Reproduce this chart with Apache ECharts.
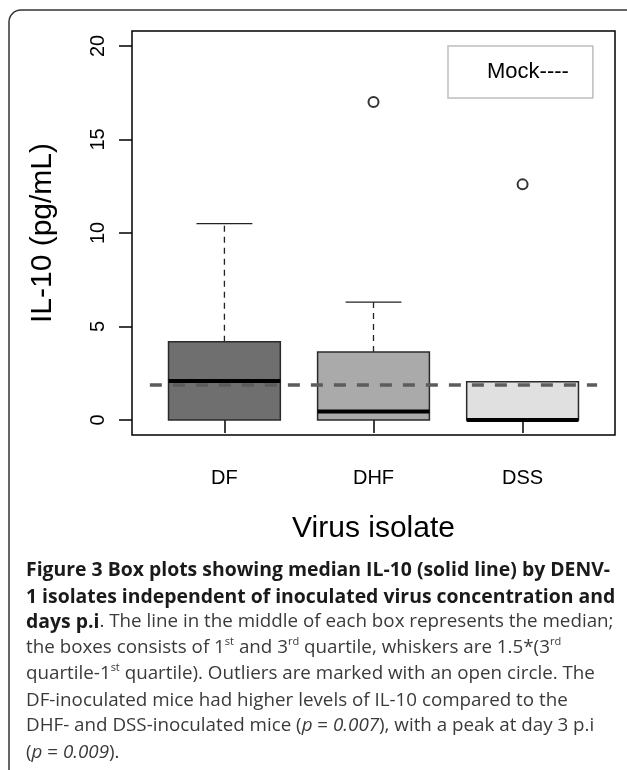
<!DOCTYPE html>
<html>
<head>
<meta charset="utf-8">
<script src="https://cdn.jsdelivr.net/npm/echarts@6/dist/echarts.min.js"></script>
<style>
  html, body { margin: 0; padding: 0; background: #fff; }
  #chart { width: 627px; height: 770px; }
</style>
</head>
<body>
<div id="chart"></div>
<script>
// data
const categories = ['DF', 'DHF', 'DSS'];
const positions = [1, 2, 3];
// [min, q1, median, q3, max]
const boxStats = [
  [0, 0, 2.09, 4.18, 10.5],
  [0, 0, 0.45, 3.64, 6.3],
  [0, 0, 0.0, 2.05, 2.05]
];
const outliers = [[2, 17.0], [3, 12.6]];
const mockLevel = 1.87;
const yTicks = [0, 5, 10, 15, 20];
const boxColors = ['#6f6f6f', '#aaaaaa', '#e0e0e0'];

// caption lines (rich text)
const captionLines = [
  '{b|Figure 3 Box plots showing median IL-10 (solid line) by DENV-}',
  '{b|1 isolates independent of inoculated virus concentration and}',
  '{b|days p.i}. The line in the middle of each box represents the median;',
  'the boxes consists of 1{sup|st} and 3{sup|rd} quartile, whiskers are 1.5*(3{sup|rd}',
  'quartile-1{sup|st} quartile). Outliers are marked with an open circle. The',
  'DF-inoculated mice had higher levels of IL-10 compared to the',
  'DHF- and DSS-inoculated mice ({i|p} = {i|0.007}), with a peak at day 3 p.i',
  '({i|p} = {i|0.009}).'
];
const captionBaselines = [578, 605, 630, 656, 682, 709, 734, 761];

const chart = echarts.init(document.getElementById('chart'));

const boxData = positions.map((p, i) => [p, ...boxStats[i]]);

// R-style box: filled box, dashed whiskers, solid caps, thick median
const renderBox = (params, api) => {
  const x = api.value(0);
  const lo = api.coord([x, api.value(1)]);
  const q1 = api.coord([x, api.value(2)]);
  const med = api.coord([x, api.value(3)]);
  const q3 = api.coord([x, api.value(4)]);
  const hi = api.coord([x, api.value(5)]);
  const bw = api.size([0.75, 0])[0];
  const cx = q1[0];
  const children = [];

  if (hi[1] < q3[1] - 0.5) {
    children.push({
      type: 'line',
      shape: { x1: cx, y1: q3[1], x2: cx, y2: hi[1] },
      style: { stroke: '#222', lineWidth: 1.3, lineDash: [6, 5] }
    });
    children.push({
      type: 'line',
      shape: { x1: cx - bw / 4, y1: hi[1], x2: cx + bw / 4, y2: hi[1] },
      style: { stroke: '#222', lineWidth: 1.3 }
    });
  }
  if (lo[1] > q1[1] + 0.5) {
    children.push({
      type: 'line',
      shape: { x1: cx, y1: q1[1], x2: cx, y2: lo[1] },
      style: { stroke: '#222', lineWidth: 1.3, lineDash: [6, 5] }
    });
  }
  children.push({
    type: 'rect',
    shape: { x: cx - bw / 2, y: q3[1], width: bw, height: q1[1] - q3[1] },
    style: { fill: boxColors[params.dataIndex], stroke: '#2a2a2a', lineWidth: 1.5 }
  });
  children.push({
    type: 'line',
    shape: { x1: cx - bw / 2, y1: med[1], x2: cx + bw / 2, y2: med[1] },
    style: { stroke: '#000', lineWidth: 4 }
  });
  return { type: 'group', children };
};

const capFont = 18.8;
const captionGraphics = captionLines.map((line, i) => ({
  type: 'text',
  left: 26,
  top: captionBaselines[i] - 20,
  style: {
    text: line,
    fontFamily: 'Open Sans',
    fontSize: capFont,
    fill: '#3a3a3a',
    lineHeight: 24,
    rich: {
      b: { fontFamily: 'Open Sans', fontSize: 19.4, fontWeight: 'bold', fill: '#1a1a1a', lineHeight: 24 },
      i: { fontFamily: 'Open Sans', fontSize: capFont, fontStyle: 'italic', fill: '#3a3a3a', lineHeight: 24 },
      sup: { fontFamily: 'Open Sans', fontSize: 11, fill: '#3a3a3a', lineHeight: 12, verticalAlign: 'top' }
    }
  }
}));

const option = {
  animation: false,
  textStyle: { fontFamily: 'Liberation Sans' },
  grid: {
    left: 132, right: 12, top: 31, bottom: 335,
    show: true, borderColor: '#000', borderWidth: 1.5, backgroundColor: 'transparent'
  },
  legend: {
    data: ['Mock----'],
    left: 448, top: 46,
    icon: 'none',
    itemWidth: 20,
    padding: [15, 24, 15, 14],
    borderColor: '#bdbdbd', borderWidth: 1.5,
    textStyle: { fontFamily: 'Liberation Sans', fontSize: 22, color: '#000' }
  },
  xAxis: {
    type: 'value',
    min: 0.38, max: 3.62,
    splitLine: { show: false },
    axisLine: { show: false },
    axisTick: { show: true, customValues: positions, length: 13, lineStyle: { color: '#000', width: 1.5 } },
    axisLabel: {
      customValues: positions,
      formatter: v => categories[Math.round(v) - 1],
      fontSize: 20, color: '#000', margin: 33
    },
    name: 'Virus isolate',
    nameLocation: 'middle',
    nameGap: 79,
    nameTextStyle: { fontSize: 30, color: '#000' }
  },
  yAxis: {
    type: 'value',
    min: -0.8, max: 20.8,
    splitLine: { show: false },
    axisLine: { show: false },
    axisTick: { show: true, customValues: yTicks, length: 13, lineStyle: { color: '#000', width: 1.5 } },
    axisLabel: { customValues: yTicks, rotate: 90, fontSize: 20, color: '#000', margin: 24 },
    name: 'IL-10 (pg/mL)',
    nameLocation: 'middle',
    nameRotate: 90,
    nameGap: 74,
    nameTextStyle: { fontSize: 30, color: '#000' }
  },
  series: [
    {
      name: 'IL-10',
      type: 'custom',
      renderItem: renderBox,
      encode: { x: 0, y: [1, 2, 3, 4, 5] },
      data: boxData,
      z: 2
    },
    {
      name: 'Mock----',
      type: 'line',
      data: [[0.5, mockLevel], [3.5, mockLevel]],
      showSymbol: false,
      lineStyle: { color: '#5c5c5c', width: 3.5, type: [12, 11] },
      z: 3
    },
    {
      name: 'Outliers',
      type: 'scatter',
      data: outliers,
      symbol: 'emptyCircle',
      symbolSize: 10,
      itemStyle: { color: '#000', borderWidth: 1.3 },
      z: 4
    }
  ],
  graphic: [
    {
      type: 'rect',
      shape: { x: 9, y: 10, width: 660, height: 800, r: 12 },
      style: { fill: 'none', stroke: '#333', lineWidth: 1.5 },
      z: -1
    },
    ...captionGraphics
  ]
};

chart.setOption(option);
</script>
</body>
</html>
